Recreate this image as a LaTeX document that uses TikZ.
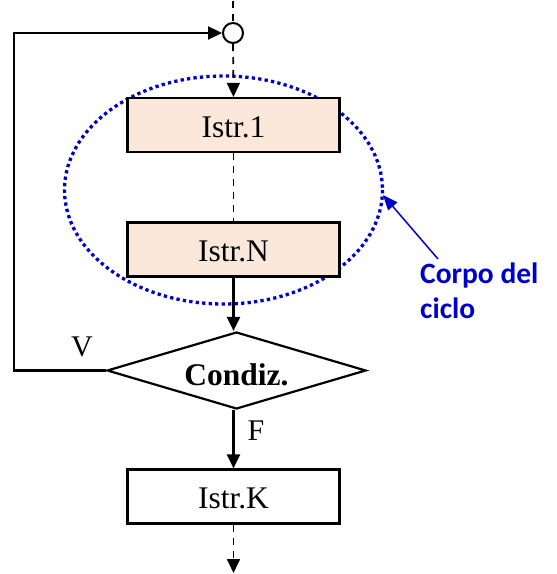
\documentclass[tikz,border=0pt]{standalone}
\usepackage{fontspec}
\setmainfont{Liberation Serif}
\newfontfamily\labelfont{Carlito}
\usetikzlibrary{arrows.meta,shapes.geometric}

\definecolor{boxfill}{RGB}{252,232,218}
\definecolor{loopblue}{RGB}{0,0,204}

\tikzset{
  flow/.style={line width=2.3pt},
  dashflow/.style={line width=1.7pt, dash pattern=on 7pt off 6pt},
  tip/.style={-{Triangle[length=14pt,width=13pt]}},
  stepbox/.style={draw, line width=2.2pt, rectangle, minimum width=212pt,
    minimum height=54pt, inner sep=0pt, font=\fontsize{31.5}{31.5}\selectfont,
    text height=24pt, text depth=0pt},
  bodybox/.style={stepbox, fill=boxfill},
  test/.style={draw, line width=2.2pt, diamond, aspect=3.36, inner sep=0pt,
    minimum width=259pt, minimum height=77pt,
    font=\fontsize{31.5}{31.5}\selectfont\bfseries, text height=30pt, text depth=0pt},
  branch/.style={font=\fontsize{30}{30}\selectfont, inner sep=0pt},
}

\begin{document}
\begin{tikzpicture}[x=1pt, y=-1pt]
  \useasboundingbox (0,0) rectangle (557,574);

  % loop body highlight
  \draw[loopblue, line width=3.3pt, dash pattern=on 3.3pt off 3.2pt]
    (223.5,190) ellipse [x radius=159, y radius=114];

  % flowchart nodes
  \node[draw, circle, line width=2pt, minimum size=20pt, inner sep=0pt,
        fill=white] (join) at (233,33) {};
  \node[bodybox] (s1) at (233.5,125) {Istr.1};
  \node[bodybox] (sN) at (233.5,249.5) {Istr.N};
  \node[test] (cond) at (236.5,370.5) {Condiz.};
  \node[stepbox] (sK) at (233.5,496.5) {Istr.K};

  \coordinate (entry) at (233,1);
  \coordinate (exit) at (233.5,573);
  \coordinate (loopx) at (14,0);

  % main sequence
  \draw[dashflow] (entry) -- (join.north);
  \draw[dashflow, tip] (join.south) -- (s1.north);
  \draw[dashflow] (s1.south) -- (sN.north);
  \draw[flow, tip] (sN.south) -- (sN.south |- cond.north);
  \draw[flow, tip] (sK.north |- cond.south) -- (sK.north);
  \draw[dashflow, tip] (sK.south) -- (exit);

  % back edge when the condition holds
  \draw[flow, tip, line join=miter] (cond.west) -- (cond.west -| loopx)
    |- (join.west);

  % branch labels
  \node[branch] (vlab) at (82,347) {V};
  \node[branch] (flab) at (256,431) {F};

  % callout
  \node[loopblue, font=\labelfont\fontsize{29.5}{35}\selectfont\bfseries,
        align=left, anchor=north west, inner sep=0pt] (note) at (420,263)
        {Corpo del\\ciclo};
  \coordinate (notetail) at (438,259);
  \coordinate (ringpt) at (383,195);
  \draw[loopblue, line width=1.5pt, -{Triangle[length=15pt,width=12pt]}]
    (notetail) -- (ringpt);
\end{tikzpicture}
\end{document}
